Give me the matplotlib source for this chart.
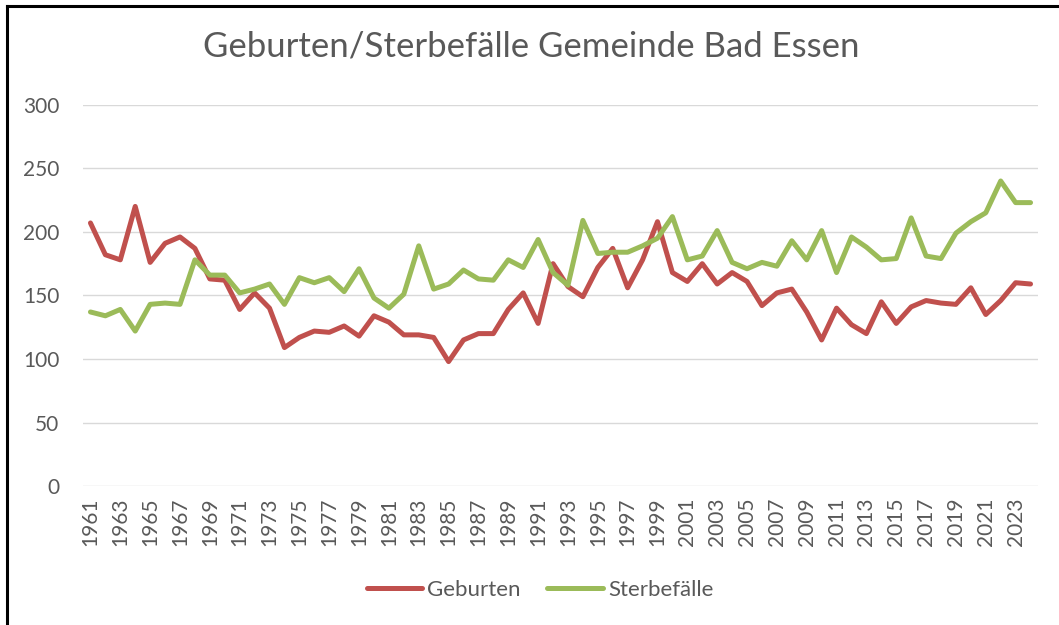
import matplotlib
matplotlib.use("Agg")
from matplotlib import pyplot as plt
from matplotlib.lines import Line2D
import numpy as np

plt.rcParams['font.family'] = ['Lato', 'DejaVu Sans']

years = list(range(1961, 2025))
geburten = [207, 182, 178, 220, 176, 191, 196, 187, 163, 162,
            139, 152, 140, 109, 117, 122, 121, 126, 118, 134,
            129, 119, 119, 117, 98, 115, 120, 120, 139, 152,
            128, 175, 157, 149, 172, 187, 156, 178, 208, 168,
            161, 175, 159, 168, 161, 142, 152, 155, 137, 115,
            140, 127, 120, 145, 128, 141, 146, 144, 143, 156,
            135, 146, 160, 159]
sterbefaelle = [137, 134, 139, 122, 143, 144, 143, 178, 166, 166,
                152, 155, 159, 143, 164, 160, 164, 153, 171, 148,
                140, 151, 189, 155, 159, 170, 163, 162, 178, 172,
                194, 168, 158, 209, 183, 184, 184, 189, 195, 212,
                178, 181, 201, 176, 171, 176, 173, 193, 178, 201,
                168, 196, 188, 178, 179, 211, 181, 179, 199, 208,
                215, 240, 223, 223]

txt = '#595959'
fig = plt.figure(figsize=(10.59, 6.25), dpi=100)
ax = fig.add_axes([83/1059, 1 - 486.2/625, (1038 - 83)/1059, (486.2 - 104.7)/625])

x = np.arange(len(years))
ax.plot(x, geburten, color='#C0504D', lw=3.6, solid_capstyle='round',
        solid_joinstyle='round', label='Geburten')
ax.plot(x, sterbefaelle, color='#9BBB59', lw=3.6, solid_capstyle='round',
        solid_joinstyle='round', label='Sterbefälle')

ax.set_xlim(-0.5, len(years) - 0.5)
ax.set_ylim(0, 300)
ax.set_yticks(range(0, 301, 50))
ax.set_xticks(x[::2])
ax.set_xticklabels([str(y) for y in years[::2]], rotation=90)
ax.grid(axis='y', color='#D9D9D9', lw=1.0)
ax.set_axisbelow(True)
for s in ax.spines.values():
    s.set_visible(False)
ax.tick_params(axis='both', length=0, colors=txt, labelsize=15)
ax.tick_params(axis='y', pad=17)
ax.tick_params(axis='x', pad=8)

fig.text(531/1059, 1 - 47/625, 'Geburten/Sterbefälle Gemeinde Bad Essen',
         ha='center', va='center', fontsize=25, color=txt)

leg = fig.legend(loc='center', bbox_to_anchor=(540/1059, 1 - 590/625), ncol=2,
                 frameon=False, fontsize=16, handlelength=2.5, handletextpad=0.22,
                 columnspacing=1.2)
for t in leg.get_texts():
    t.set_color(txt)

# screenshot frame (left and top edges)
fig.add_artist(Line2D([7/1059, 7/1059], [0, 1 - 6/625], transform=fig.transFigure,
                      color='black', lw=2.2))
fig.add_artist(Line2D([7/1059, 1], [1 - 6/625, 1 - 6/625], transform=fig.transFigure,
                      color='black', lw=2.2))

fig.savefig('out.png', dpi=100)
